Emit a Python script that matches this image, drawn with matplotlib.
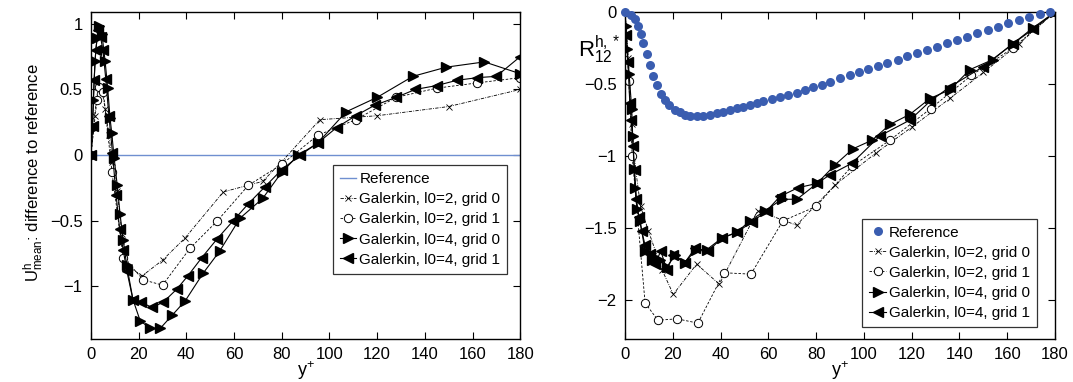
import numpy as np
from matplotlib import pyplot as plt

plt.rcParams['font.family'] = ['Liberation Sans', 'DejaVu Sans']
plt.rcParams['mathtext.fontset'] = 'custom'
plt.rcParams['mathtext.rm'] = 'Liberation Sans'
plt.rcParams['mathtext.it'] = 'Liberation Sans'

# ---- left panel: U mean difference to reference ----
refL_x = [0, 180]
refL_y = [0, 0]

uL2g0_x = [0, 1.5, 3, 4.5, 6, 7.5, 9, 11, 13, 16, 21.4, 30, 39.5, 55.5, 72, 80, 96, 120, 150, 180]
uL2g0_y = [0, 0.30, 0.52, 0.50, 0.35, 0.15, -0.05, -0.27, -0.60, -0.85, -0.92, -0.80, -0.63, -0.28,
           -0.20, -0.05, 0.27, 0.30, 0.37, 0.50]

uL2g1_x = [0, 2.5, 3.2, 5.2, 8.8, 13.5, 22, 30, 41.5, 53, 66, 80, 95, 111, 128, 145, 162, 180]
uL2g1_y = [0, 0.42, 0.52, 0.48, -0.13, -0.78, -0.95, -0.99, -0.71, -0.50, -0.23, -0.07, 0.15, 0.27,
           0.44, 0.51, 0.55, 0.59]

uL4g0_x = [0, 0.5, 1.0, 1.7, 2.5, 3.5, 4.6, 5.9, 7.0, 8.0, 8.7, 9.7, 11, 12.2, 13.5, 15, 17.6, 20.6,
           24.8, 29, 34, 39.5, 47, 54, 62.5, 72, 80, 87, 95, 107, 120, 135, 149, 165, 180]
uL4g0_y = [0, 0.20, 0.42, 0.72, 0.89, 0.98, 0.92, 0.72, 0.51, 0.28, 0.17, -0.02, -0.23, -0.45, -0.65,
           -0.84, -1.10, -1.26, -1.32, -1.32, -1.22, -1.11, -0.90, -0.73, -0.48, -0.33, -0.13, 0.0,
           0.09, 0.33, 0.44, 0.60, 0.67, 0.71, 0.62]

uL4g1_x = [0, 0.7, 1.3, 2.0, 3.0, 4.0, 5.0, 6.2, 7.5, 9.0, 10.5, 12, 13.5, 15, 17.6, 21, 25.6, 30.3,
           36, 40.6, 46.5, 52.8, 59.6, 66, 73, 80, 87.7, 95, 103, 111, 119, 128, 136, 145, 153.5, 162,
           170, 180]
uL4g1_y = [0, 0.22, 0.57, 0.80, 0.95, 0.90, 0.80, 0.58, 0.30, 0.02, -0.30, -0.56, -0.72, -0.88, -1.10,
           -1.12, -1.16, -1.12, -1.02, -0.92, -0.78, -0.64, -0.50, -0.37, -0.24, -0.11, 0.0, 0.09,
           0.21, 0.30, 0.38, 0.44, 0.50, 0.53, 0.57, 0.59, 0.60, 0.75]

# ---- right panel: Reynolds stress R12 ----
refR_x = [0, 2.4, 4.2, 5.6, 6.6, 7.7, 9.1, 10.5, 11.9, 13.3, 14.9, 16.7, 18.6, 20.9, 23.0, 25.1, 27.2,
          30.0, 32.8, 35.6, 38.4, 41.1, 44.0, 46.8, 49.5, 52.3, 55.1, 57.9, 61.4, 64.9, 68.4, 71.9,
          75.3, 78.8, 82.3, 86.0, 90.0, 94.0, 98.0, 101.9, 106.0, 109.8, 114.4, 118.2, 122.4, 126.5,
          130.7, 134.9, 139.1, 143.3, 147.5, 152.1, 156.3, 160.4, 165.0, 169.2, 173.7, 177.9]
refR_y = [0, -0.02, -0.05, -0.096, -0.151, -0.215, -0.29, -0.369, -0.444, -0.509, -0.566, -0.612,
          -0.646, -0.678, -0.696, -0.713, -0.72, -0.72, -0.72, -0.715, -0.703, -0.692, -0.680, -0.669,
          -0.658, -0.646, -0.632, -0.621, -0.605, -0.589, -0.575, -0.559, -0.541, -0.522, -0.504,
          -0.484, -0.461, -0.44, -0.417, -0.395, -0.376, -0.353, -0.330, -0.307, -0.284, -0.262,
          -0.241, -0.217, -0.195, -0.171, -0.148, -0.126, -0.102, -0.079, -0.056, -0.034, -0.014, 0]

rR2g0_x = [0, 1.4, 2.8, 4.5, 6.5, 9.8, 15.5, 20.2, 30, 39.5, 55.5, 71.8, 88, 105, 120, 136, 150, 165, 180]
rR2g0_y = [0, -0.32, -0.78, -1.1, -1.35, -1.52, -1.79, -1.96, -1.75, -1.89, -1.38, -1.48, -1.20, -0.98,
           -0.80, -0.60, -0.42, -0.22, 0]

rR2g1_x = [0, 1.6, 3.0, 8.4, 13.8, 21.8, 30.5, 41.4, 52.7, 66.1, 80, 95, 110.9, 128, 145, 162.4, 180]
rR2g1_y = [0, -0.48, -1.0, -2.02, -2.14, -2.13, -2.16, -1.81, -1.82, -1.45, -1.35, -1.07, -0.89, -0.67,
           -0.44, -0.25, 0]

rR4g0_x = [0, 0.4, 0.9, 1.7, 2.8, 3.2, 3.8, 4.2, 5.0, 6.3, 8.4, 11.3, 14.7, 17.5, 20.9, 25, 29.7, 34.2,
           40.5, 46.7, 52.3, 58.6, 65.7, 72, 80.4, 88, 95.4, 103.4, 111, 119.3, 127.7, 136, 144.4, 154,
           162.4, 170.8, 180]
rR4g0_y = [0, -0.10, -0.26, -0.43, -0.67, -0.86, -1.09, -1.22, -1.37, -1.45, -1.66, -1.72, -1.72, -1.77,
           -1.69, -1.74, -1.65, -1.65, -1.57, -1.53, -1.45, -1.38, -1.30, -1.30, -1.19, -1.06, -0.95,
           -0.89, -0.78, -0.71, -0.60, -0.54, -0.40, -0.33, -0.22, -0.11, 0]

rR4g1_x = [0, 0.5, 1.2, 2.0, 2.6, 3.4, 4.0, 4.8, 5.8, 7.0, 8.4, 10.5, 12.5, 15, 17.5, 20.2, 25, 29.3,
           34.8, 40.5, 46.7, 53, 59.3, 64.9, 72.4, 80.4, 85.8, 95, 106.7, 119.3, 127.7, 136, 149.9,
           162.4, 170.8, 180]
rR4g1_y = [0, -0.16, -0.35, -0.63, -0.75, -0.93, -1.1, -1.3, -1.42, -1.52, -1.62, -1.68, -1.75, -1.66,
           -1.79, -1.69, -1.74, -1.64, -1.66, -1.57, -1.53, -1.46, -1.38, -1.28, -1.22, -1.19, -1.13,
           -1.05, -0.86, -0.75, -0.62, -0.52, -0.38, -0.22, -0.12, 0]

xticks = [0, 20, 40, 60, 80, 100, 120, 140, 160, 180]
yticksL = [-1, -0.5, 0, 0.5, 1]
yticklabelsL = ['\u22121', '\u22120.5', '0', '0.5', '1']
yticksR = [-2, -1.5, -1, -0.5, 0]
yticklabelsR = ['\u22122', '\u22121.5', '\u22121', '\u22120.5', '0']
labels = ['Reference', 'Galerkin, l0=2, grid 0', 'Galerkin, l0=2, grid 1',
          'Galerkin, l0=4, grid 0', 'Galerkin, l0=4, grid 1']


def drawGalerkin(ax, series):
    #Draws the four Galerkin curves in MATLAB style
    (x0, y0), (x1, y1), (x2, y2), (x3, y3) = series
    ax.plot(x0, y0, color='k', linestyle='-.', linewidth=0.6, marker='x', markersize=4,
            markeredgewidth=0.6, label=labels[1], dashes=(4, 1.5, 1, 1.5))
    ax.plot(x1, y1, color='k', linestyle='--', linewidth=0.6, marker='o', markersize=6,
            markerfacecolor='white', markeredgewidth=0.7, label=labels[2], dashes=(3, 2))
    ax.plot(x2, y2, color='k', linestyle='-', linewidth=0.8, marker='>', markersize=6.5,
            label=labels[3])
    ax.plot(x3, y3, color='k', linestyle='-', linewidth=0.8, marker='<', markersize=6.5,
            label=labels[4])


def styleAxes(ax, yticks, yticklabels, ylim):
    ax.set_xlim(0, 180)
    ax.set_ylim(ylim)
    ax.set_xticks(xticks)
    ax.set_xticklabels([str(t) for t in xticks])
    ax.set_yticks(yticks)
    ax.set_yticklabels(yticklabels)
    ax.tick_params(direction='in', top=True, right=True, length=5, width=0.8, labelsize=12, pad=6)
    for s in ax.spines.values():
        s.set_linewidth(1.0)
    ax.set_xlabel('y$^{+}$', fontsize=13, labelpad=-2)


def addLegend(ax, anchor):
    leg = ax.legend(loc='lower right', bbox_to_anchor=anchor, fontsize=11, frameon=True,
                    fancybox=False, edgecolor='k', handlelength=1.1, handletextpad=0.2,
                    borderpad=0.45, labelspacing=0.4, borderaxespad=0)
    leg.get_frame().set_linewidth(0.9)


fig = plt.figure(figsize=(10.73, 3.82), dpi=100)
axL = fig.add_axes([0.0848, 0.1126, 0.400, 0.856])
axR = fig.add_axes([0.5825, 0.1126, 0.4007, 0.856])

# left
axL.plot(refL_x, refL_y, color='#6f8fd0', linewidth=1.0, label=labels[0])
drawGalerkin(axL, [(uL2g0_x, uL2g0_y), (uL2g1_x, uL2g1_y), (uL4g0_x, uL4g0_y), (uL4g1_x, uL4g1_y)])
styleAxes(axL, yticksL, yticklabelsL, (-1.40, 1.09))
axL.set_ylabel('U$^{\\mathrm{h}}_{\\mathrm{mean}}$: difference to reference', fontsize=12)
axL.yaxis.set_label_coords(-0.105, 0.51)
addLegend(axL, (0.97, 0.2))

# right
axR.plot(refR_x, refR_y, linestyle='none', marker='o', markersize=6.5, color='#3a5db0',
         markeredgewidth=0, label=labels[0], clip_on=False, zorder=3)
drawGalerkin(axR, [(rR2g0_x, rR2g0_y), (rR2g1_x, rR2g1_y), (rR4g0_x, rR4g0_y), (rR4g1_x, rR4g1_y)])
styleAxes(axR, yticksR, yticklabelsR, (-2.27, 0))
axR.set_ylabel('R$^{\\mathrm{h,*}}_{\\mathrm{12}}$', fontsize=16, rotation=0)
axR.yaxis.set_label_coords(-0.06, 0.835)
addLegend(axR, (0.958, 0.037))

fig.savefig('out.png', dpi=100)
